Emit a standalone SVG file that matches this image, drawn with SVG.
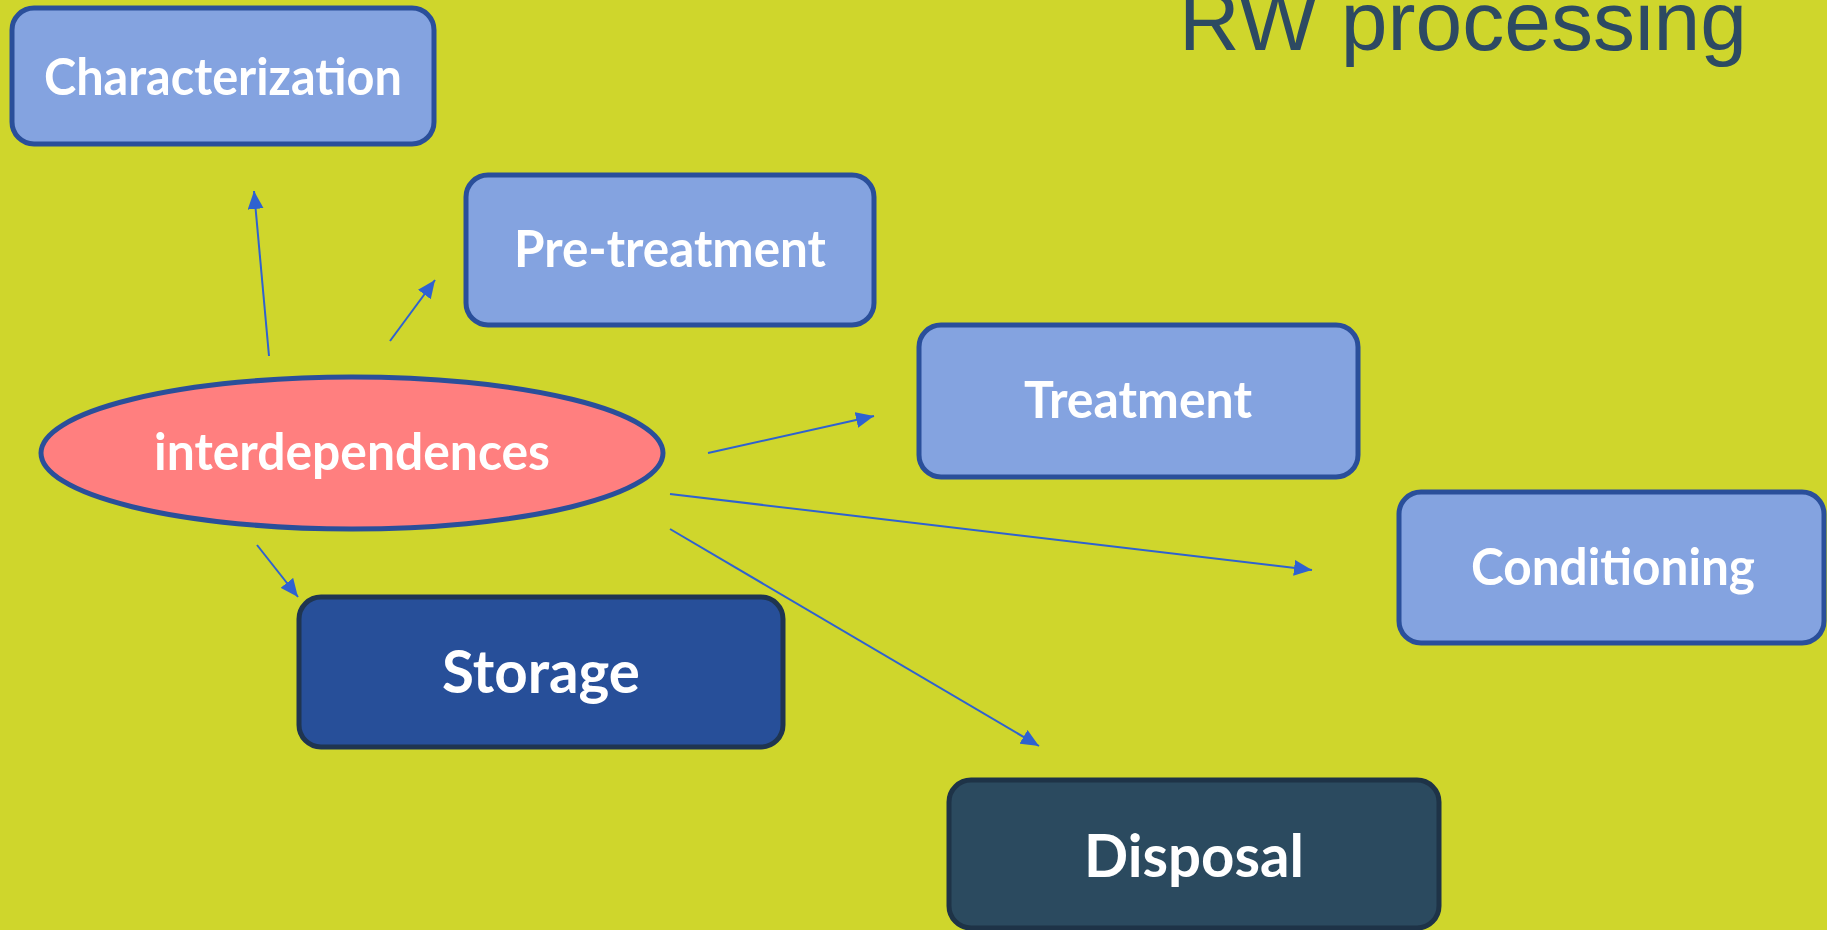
<svg xmlns="http://www.w3.org/2000/svg" width="1827" height="930" viewBox="0 0 1827 930">
<style>
.box{fill:#84A3E0;stroke:#2A4F9A;stroke-width:5}
.dark1{fill:#274F99;stroke:#1F3550;stroke-width:5}
.dark2{fill:#2B4A5F;stroke:#1E3347;stroke-width:5}
.lbl{font-family:Lato,"Open Sans","Liberation Sans",sans-serif;font-weight:bold;fill:#FFFFFF;text-anchor:middle}
.conn line{stroke:#2F62D0;stroke-width:2;marker-end:url(#ah)}
</style>
<defs>
<marker id="ah" markerUnits="userSpaceOnUse" markerWidth="20" markerHeight="16" refX="18" refY="8" orient="auto">
<path d="M0,0 L18,8 L0,16 Z" fill="#2F62D0"/>
</marker>
</defs>
<rect width="1827" height="930" fill="#CFD62C"/>
<text x="1463" y="50" font-family="'Liberation Sans',Arial,sans-serif" font-size="84" fill="#2D4A62" text-anchor="middle">RW processing</text>
<g class="conn">
<line x1="269" y1="356" x2="254" y2="191"/>
<line x1="390" y1="341" x2="435" y2="280"/>
<line x1="708" y1="453" x2="874" y2="416"/>
<line x1="670" y1="494" x2="1312" y2="570"/>
<line x1="670" y1="529" x2="1039" y2="746"/>
<line x1="257" y1="545" x2="298" y2="597"/>
</g>
<g id="characterization">
<rect class="box" x="12" y="8" width="422" height="136" rx="22"/>
<text class="lbl" x="223" y="95" font-size="51" textLength="358" lengthAdjust="spacingAndGlyphs">Characterization</text>
</g>
<g id="pretreatment">
<rect class="box" x="466" y="175" width="408" height="150" rx="22"/>
<text class="lbl" x="670" y="267" font-size="51" textLength="312" lengthAdjust="spacingAndGlyphs">Pre-treatment</text>
</g>
<g id="treatment">
<rect class="box" x="919" y="325" width="439" height="152" rx="22"/>
<text class="lbl" x="1138" y="418" font-size="51" textLength="228" lengthAdjust="spacingAndGlyphs">Treatment</text>
</g>
<g id="conditioning">
<rect class="box" x="1399" y="492" width="425" height="151" rx="22"/>
<text class="lbl" x="1613" y="585" font-size="51" textLength="284" lengthAdjust="spacingAndGlyphs">Conditioning</text>
</g>
<g id="interdependences">
<ellipse cx="352" cy="453" rx="311" ry="76" fill="#FF7F7F" stroke="#2A4F9A" stroke-width="5"/>
<text class="lbl" x="352" y="470" font-size="51" textLength="396" lengthAdjust="spacingAndGlyphs">interdependences</text>
</g>
<g id="storage">
<rect class="dark1" x="299" y="597" width="484" height="150" rx="22"/>
<text class="lbl" x="541" y="693" font-size="60" textLength="198" lengthAdjust="spacingAndGlyphs">Storage</text>
</g>
<g id="disposal">
<rect class="dark2" x="949" y="780" width="490" height="148" rx="22"/>
<text class="lbl" x="1194" y="877" font-size="60" textLength="220" lengthAdjust="spacingAndGlyphs">Disposal</text>
</g>
</svg>
